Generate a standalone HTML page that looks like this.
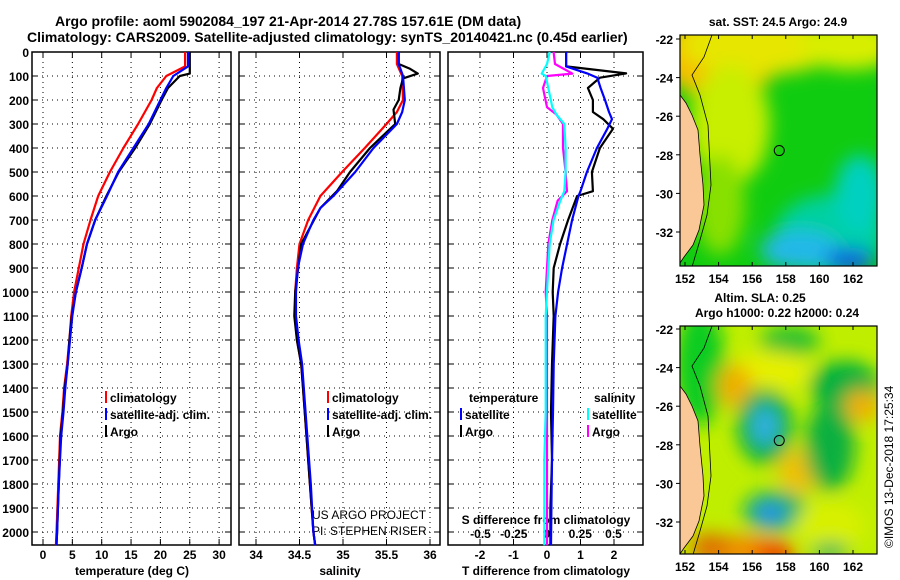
<!DOCTYPE html>
<html><head><meta charset="utf-8"><style>
html,body{margin:0;padding:0;background:#fff;}
svg{display:block;font-family:"Liberation Sans",Arial,sans-serif;}
.t{font-size:12px;font-weight:bold;fill:#000;}
.tt{font-size:14px;font-weight:bold;fill:#000;}
</style></head><body>
<svg id="chart" width="900" height="580" viewBox="0 0 900 580" xmlns="http://www.w3.org/2000/svg">
<defs>
<filter id="blur" x="-20%" y="-20%" width="140%" height="140%"><feGaussianBlur stdDeviation="9"/></filter>
<clipPath id="clipTop"><rect x="680" y="35" width="197" height="231"/></clipPath>
<clipPath id="clipBot"><rect x="680" y="326" width="197" height="228"/></clipPath>
</defs>
<text class="tt" x="55" y="26">Argo profile: aoml 5902084_197 21-Apr-2014 27.78S 157.61E (DM data)</text>
<text class="tt" x="27" y="42">Climatology: CARS2009. Satellite-adjusted climatology: synTS_20140421.nc (0.45d earlier)</text>
<g id="plots"></g>
<g id="maps"></g>
</svg>
<script>
// ---------- data ----------
const depthT = [0,60,100,150,200,300,400,500,600,700,800,900,1000,1100,1200,1300,1400,1500,1600,1800,2000,2055];
const tempClim = [24.2,24.2,21.0,19.4,18.5,16.2,13.7,11.4,9.4,8.1,6.9,6.1,5.3,4.8,4.5,4.1,3.6,3.3,2.9,2.6,2.3,2.2];
const tempSat = [24.7,24.7,22.2,21.0,20.0,18.0,15.4,12.8,10.9,8.9,7.5,6.6,5.6,5.0,4.6,4.2,3.8,3.5,3.1,2.7,2.4,2.3];
const depthA = [0,90,100,150,200,300,400,500,600,700,800,900,1000,1100,1200,1300,1400,1500,1600,1800,2000,2055];
const tempArgo = [25.0,25.0,23.3,21.3,20.2,18.2,15.7,12.9,10.8,8.9,7.5,6.6,5.6,4.9,4.5,4.2,3.7,3.4,3.0,2.7,2.4,2.3];

const depthS = [0,50,100,200,250,300,400,500,600,650,700,800,900,1000,1100,1200,1300,1400,1600,1800,2000,2055];
const salClim = [35.62,35.62,35.68,35.69,35.62,35.50,35.25,34.99,34.74,34.67,34.60,34.50,34.47,34.45,34.45,34.47,34.52,34.54,34.58,34.62,34.66,34.68];
const salSat = [35.64,35.64,35.69,35.71,35.68,35.62,35.35,35.14,34.89,34.74,34.66,34.54,34.48,34.46,34.46,34.49,34.53,34.55,34.59,34.63,34.66,34.68];
const depthSA = [0,50,70,90,110,150,200,240,300,400,500,580,650,800,1000,1100,1200,1300,1400,1600,1800,2000,2055];
const salArgo = [35.64,35.64,35.77,35.86,35.69,35.66,35.64,35.58,35.60,35.31,35.08,34.93,34.74,34.52,34.45,34.44,34.47,34.52,34.54,34.58,34.62,34.66,34.68];

const depthD = [0,60,89,107,150,200,250,280,320,400,500,580,600,700,800,900,1000,1100,1300,1500,1700,1900,2055];
const tdiffArgo = [0.57,0.57,2.36,1.58,1.22,1.37,1.37,1.68,1.97,1.58,1.34,1.37,0.90,0.63,0.39,0.20,0.17,0.20,0.15,0.12,0.15,0.10,0.10];
const tdiffSat = [0.57,0.57,1.20,1.50,1.60,1.73,1.85,1.94,1.80,1.49,1.19,1.00,0.94,0.75,0.60,0.45,0.33,0.25,0.20,0.18,0.15,0.13,0.12];
const depthDS = [0,50,90,100,150,230,260,300,400,500,580,620,700,800,900,1000,1100,1300,1500,1700,1900,2055];
const sdiffArgo = [0.05,0.06,0.19,0.00,-0.03,0.00,0.07,0.12,0.12,0.14,0.15,0.08,0.04,0.01,0.00,-0.01,0.00,0.00,0.00,0.00,0.00,0.00];
const sdiffSat = [0.02,0.0,-0.04,-0.01,0.01,0.04,0.07,0.13,0.14,0.14,0.13,0.10,0.05,0.02,0.01,0.00,-0.01,-0.01,-0.01,-0.02,-0.02,-0.02];

const depthTicks = [0,100,200,300,400,500,600,700,800,900,1000,1100,1200,1300,1400,1500,1600,1700,1800,1900,2000];
const tempTicks = [0,5,10,15,20,25,30];
const salTicks = [34,34.5,35,35.5,36];
const salTickLabels = ["34","34.5","35","35.5","36"];
const tdTicks = [-2,-1,0,1,2];
const sdTicks = [-0.5,-0.25,0,0.25,0.5];
const sdTickLabels = ["-0.5","-0.25","0","0.25","0.5"];
const lonTicks = [152,154,156,158,160,162];
const latTicks = [-22,-24,-26,-28,-30,-32];

// ---------- axes ----------
const NS = "http://www.w3.org/2000/svg";
const TOP = 52, BOT = 545;
const yD = d => TOP + d * 0.24;
const xT = t => 43 + t * 5.87;
const xS = s => 256 + (s - 34) * 87;
const xTD = t => 547 + t * 33.5;
const xSD = s => 547 + s * 133;
const plots = document.getElementById('plots');
const maps = document.getElementById('maps');

function mk(tag, attrs, parent) {
  const e = document.createElementNS(NS, tag);
  for (const k in attrs) e.setAttribute(k, attrs[k]);
  (parent || plots).appendChild(e);
  return e;
}
function txt(x, y, s, anchor, parent, cls) {
  const e = mk('text', {x: x, y: y, 'text-anchor': anchor || 'middle', class: cls || 't'}, parent);
  e.textContent = s;
  return e;
}
function stepPath(xs, ds, fx) {
  let p = '';
  for (let i = 0; i < xs.length; i++) {
    p += (i ? 'L' : 'M') + fx(xs[i]).toFixed(1) + ',' + yD(Math.min(ds[i], 2055)).toFixed(1);
  }
  return p;
}

const panels = [[32, 231], [239, 440], [448, 643]];
panels.forEach((p, i) => {
  const g = mk('g', {});
  
  
  depthTicks.forEach(d => {
    if (d === 0) return;
    const l = mk('line', {x1: p[0], x2: p[1], y1: yD(d), y2: yD(d), stroke: '#000', 'stroke-width': 1, 'stroke-dasharray': '1,4'}, g);
    
    
    mk('line', {x1: p[0], x2: p[0] + 6, y1: yD(d), y2: yD(d), stroke: '#000'}, g);
    mk('line', {x1: p[1], x2: p[1] - 6, y1: yD(d), y2: yD(d), stroke: '#000'}, g);
  });
  const r = mk('rect', {x: p[0], y: TOP, width: p[1] - p[0], height: BOT - TOP, fill: 'none', stroke: '#000', 'stroke-width': 1.5}, g);
  
  
});
function vgrid(vals, fx) {
  vals.forEach(v => {
    const x = fx(v);
    const l = mk('line', {x1: x, x2: x, y1: TOP, y2: BOT, stroke: '#000', 'stroke-width': 1, 'stroke-dasharray': '1,4'});
    
    
    mk('line', {x1: x, x2: x, y1: BOT, y2: BOT - 6, stroke: '#000'});
    mk('line', {x1: x, x2: x, y1: TOP, y2: TOP + 6, stroke: '#000'});
  });
}
vgrid(tempTicks, xT);
vgrid(salTicks, xS);
vgrid(tdTicks, xTD);

depthTicks.forEach(d => {
  const e = txt(29, yD(d) + 5, String(d), 'end');
  
  
});
tempTicks.forEach(v => { const e = txt(xT(v), 559, String(v));   });
salTicks.forEach((v, i) => { const e = txt(xS(v), 559, salTickLabels[i]);   });
tdTicks.forEach(v => { const e = txt(xTD(v), 559, String(v));   });
sdTicks.forEach((v, i) => { const e = txt(xSD(v), 538, sdTickLabels[i]);   });

let e;
e = txt(132, 575, 'temperature (deg C)');  
e = txt(340, 575, 'salinity');  
e = txt(546, 575, 'T difference from climatology');  
e = txt(546, 524, 'S difference from climatology');  
e = mk('text', {x: 312, y: 519, 'font-size': 12, fill: '#000'}); e.textContent = 'US ARGO PROJECT';  
e = mk('text', {x: 312, y: 535, 'font-size': 12, fill: '#000'}); e.textContent = 'PI: STEPHEN RISER';  

const series = [
  [tempClim, depthT, xT, 'red', 'temp-climatology-line'],
  [tempArgo, depthA, xT, 'black', 'temp-argo-line'],
  [tempSat, depthT, xT, 'blue', 'temp-satellite-line'],
  [salClim, depthS, xS, 'red', 'salinity-climatology-line'],
  [salArgo, depthSA, xS, 'black', 'salinity-argo-line'],
  [salSat, depthS, xS, 'blue', 'salinity-satellite-line'],
  [tdiffArgo, depthD, xTD, 'black', 'tdiff-argo-line'],
  [tdiffSat, depthD, xTD, 'blue', 'tdiff-satellite-line'],
  [sdiffArgo, depthDS, xSD, '#ff00ff', 'sdiff-argo-line'],
  [sdiffSat, depthDS, xSD, '#00ffff', 'sdiff-satellite-line']
];
series.forEach(s => {
  const p = mk('path', {d: stepPath(s[0], s[1], s[2]), fill: 'none', stroke: s[3], 'stroke-width': 2.2, 'stroke-linejoin': 'round'});
  
  
});

function legend(x, y, color, label, name) {
  const g = mk('g', {});
  
  
  mk('rect', {x: x, y: y - 11, width: 2, height: 12, fill: color}, g);
  txt(x + 5, y, label, 'start', g);
}
legend(105, 402, 'red', 'climatology', 'legend-entry-climatology');
legend(105, 419, 'blue', 'satellite-adj. clim.', 'legend-entry-satellite');
legend(105, 436, 'black', 'Argo', 'legend-entry-argo');
legend(327, 402, 'red', 'climatology', 'legend-entry-sal-climatology');
legend(327, 419, 'blue', 'satellite-adj. clim.', 'legend-entry-sal-satellite');
legend(327, 436, 'black', 'Argo', 'legend-entry-sal-argo');
e = txt(469, 402, 'temperature', 'start');  
e = txt(594, 402, 'salinity', 'start');  
legend(460, 419, 'blue', 'satellite', 'legend-entry-tdiff-satellite');
legend(460, 436, 'black', 'Argo', 'legend-entry-tdiff-argo');
legend(587, 419, '#00ffff', 'satellite', 'legend-entry-sdiff-satellite');
legend(587, 436, '#ff00ff', 'Argo', 'legend-entry-sdiff-argo');

// ---------- maps ----------
const mapLeft = 680, mapRight = 877;
const lonX = lon => 685 + (lon - 152) * 16.8;
function drawMap(top, bottom, clip, blobs, base, name, latY) {
  const g = mk('g', {}, maps);
  
  
  const inner = mk('g', {'clip-path': 'url(#' + clip + ')'}, g);
  mk('rect', {x: mapLeft, y: top, width: mapRight - mapLeft, height: bottom - top, fill: base}, inner);
  const bg = mk('g', {filter: 'url(#blur)'}, inner);
  blobs.forEach(b => mk('ellipse', {cx: b[0], cy: top + b[1], rx: b[2], ry: b[3], fill: b[4]}, bg));
  const land = 'M680,' + (top + 60) + ' L686,' + (top + 68) + ' L692,' + (top + 80) + ' L698,' + (top + 95) + ' L700,' + (top + 120) + ' L703,' + (top + 150) + ' L704,' + (top + 170) + ' L699,' + (top + 195) + ' L693,' + (top + 210) + ' L684,' + (top + 222) + ' L680,' + (top + 228) + ' Z';
  const l = mk('path', {d: land, fill: '#fac896', stroke: '#000', 'stroke-width': 0.8}, inner);
  
  
  const iso = 'M712,' + top + ' L704,' + (top + 22) + ' L692,' + (top + 40) + ' L700,' + (top + 60) + ' L708,' + (top + 90) + ' L711,' + (top + 150) + ' L707,' + (top + 180) + ' L700,' + (top + 205) + ' L692,' + (top + 232);
  mk('path', {d: iso, fill: 'none', stroke: '#000', 'stroke-width': 0.8}, inner);
  const c = mk('circle', {cx: lonX(157.61), cy: latY(-27.78), r: 5, fill: 'none', stroke: '#000', 'stroke-width': 1}, g);
  
  
  mk('rect', {x: mapLeft, y: top, width: mapRight - mapLeft, height: bottom - top, fill: 'none', stroke: '#000', 'stroke-width': 1.2}, g);
  lonTicks.forEach(v => {
    const x = lonX(v);
    mk('line', {x1: x, x2: x, y1: bottom, y2: bottom - 4, stroke: '#000'}, g);
    mk('line', {x1: x, x2: x, y1: top, y2: top + 4, stroke: '#000'}, g);
    const t = txt(x, bottom + 17, String(v), 'middle', g);  
  });
  latTicks.forEach(v => {
    const y = latY(v);
    mk('line', {x1: mapLeft, x2: mapLeft - 4, y1: y, y2: y, stroke: '#000'}, g);
    const t = txt(673, y + 5, String(v), 'end', g);  
  });
}
const sstBlobs = [
  [720, 20, 60, 45, '#f5c000'], [760, 10, 80, 30, '#e6e600'], [850, 10, 50, 25, '#d8ee00'],
  [730, 90, 40, 60, '#c8ee00'], [720, 170, 25, 50, '#88e000'],
  [830, 200, 55, 40, '#00d0a0'], [800, 215, 40, 20, '#20b8e8'], [850, 225, 25, 12, '#1060e0'], [860, 160, 25, 40, '#00d0c0']
];
drawMap(35, 266, 'clipTop', sstBlobs, '#10cc10', 'sst-map', lat => 39 + (-22 - lat) * 19.3);
const slaBlobs = [
  [700, 40, 25, 60, '#10cc20'], [790, 15, 30, 15, '#20c030'],
  [770, 45, 40, 20, '#e6f000'], [735, 60, 18, 22, '#f0b000'],
  [765, 100, 28, 38, '#00b040'], [765, 100, 14, 20, '#30b0e0'],
  [845, 60, 35, 25, '#00b040'], [862, 80, 18, 16, '#f0b000'], [800, 145, 22, 22, '#f0c000'],
  [830, 120, 25, 45, '#10b040'],
  [775, 185, 32, 20, '#10b070'], [770, 188, 14, 11, '#3090f0'],
  [745, 225, 50, 16, '#f09000'], [775, 228, 22, 9, '#f00000'], [710, 222, 20, 15, '#e07000'],
  [830, 200, 35, 25, '#d8f000'], [830, 225, 20, 8, '#10b060']
];
drawMap(326, 554, 'clipBot', slaBlobs, '#c0ee00', 'sla-map', lat => 329 + (-22 - lat) * 19.3);
e = txt(778, 26, 'sat. SST: 24.5 Argo: 24.9', 'middle', maps);  
e = txt(760, 302, 'Altim. SLA: 0.25', 'middle', maps);  
e = txt(777, 317, 'Argo h1000: 0.22 h2000: 0.24', 'middle', maps);  
e = mk('text', {x: 0, y: 0, transform: 'translate(893,548) rotate(-90)', 'font-size': 12, fill: '#000'}, maps);
e.textContent = '©IMOS 13-Dec-2018 17:25:34';


</script>
</body></html>
